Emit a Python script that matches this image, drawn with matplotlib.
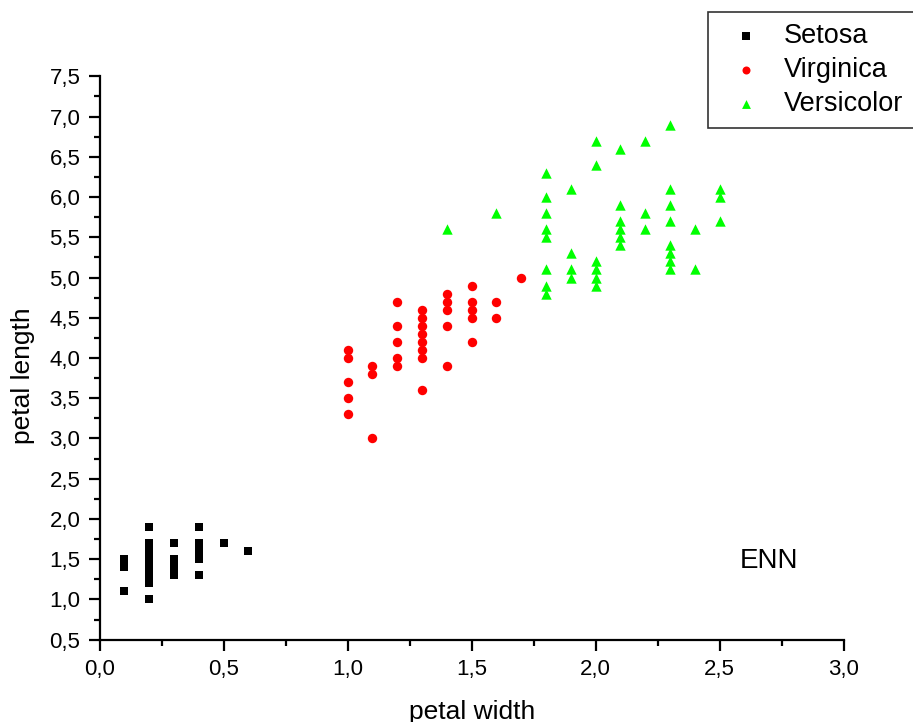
import numpy as np
import matplotlib
matplotlib.use("Agg")
import matplotlib.pyplot as plt
from matplotlib.ticker import MultipleLocator, FuncFormatter

plt.rcParams["font.family"] = ["Liberation Sans", "DejaVu Sans"]

# petal width / petal length
setosa_w = [0.1, 0.1, 0.1,
            0.2, 0.2, 0.2, 0.2, 0.2, 0.2, 0.2, 0.2,
            0.3, 0.3, 0.3, 0.3,
            0.4, 0.4, 0.4, 0.4, 0.4,
            0.5, 0.6]
setosa_l = [1.5, 1.4, 1.1,
            1.9, 1.7, 1.6, 1.5, 1.4, 1.3, 1.2, 1.0,
            1.7, 1.5, 1.4, 1.3,
            1.9, 1.7, 1.6, 1.5, 1.3,
            1.7, 1.6]

virginica_w = [1.0, 1.0, 1.0, 1.0, 1.0,
               1.1, 1.1, 1.1,
               1.2, 1.2, 1.2, 1.2, 1.2,
               1.3, 1.3, 1.3, 1.3, 1.3, 1.3, 1.3, 1.3,
               1.4, 1.4, 1.4, 1.4, 1.4,
               1.5, 1.5, 1.5, 1.5, 1.5,
               1.6, 1.6, 1.7]
virginica_l = [4.1, 4.0, 3.7, 3.5, 3.3,
               3.9, 3.8, 3.0,
               4.7, 4.4, 4.2, 4.0, 3.9,
               4.6, 4.5, 4.4, 4.3, 4.2, 4.1, 4.0, 3.6,
               4.8, 4.7, 4.6, 4.4, 3.9,
               4.9, 4.7, 4.6, 4.5, 4.2,
               4.7, 4.5, 5.0]

versicolor_w = [1.4, 1.6,
                1.8, 1.8, 1.8, 1.8, 1.8, 1.8, 1.8, 1.8,
                1.9, 1.9, 1.9, 1.9,
                2.0, 2.0, 2.0, 2.0, 2.0, 2.0,
                2.1, 2.1, 2.1, 2.1, 2.1, 2.1,
                2.2, 2.2, 2.2,
                2.3, 2.3, 2.3, 2.3, 2.3, 2.3, 2.3, 2.3,
                2.4, 2.4,
                2.5, 2.5, 2.5]
versicolor_l = [5.6, 5.8,
                6.3, 6.0, 5.8, 5.6, 5.5, 5.1, 4.9, 4.8,
                6.1, 5.3, 5.1, 5.0,
                6.7, 6.4, 5.2, 5.1, 5.0, 4.9,
                6.6, 5.9, 5.7, 5.6, 5.5, 5.4,
                6.7, 5.8, 5.6,
                6.9, 6.1, 5.9, 5.7, 5.4, 5.3, 5.2, 5.1,
                5.6, 5.1,
                6.1, 6.0, 5.7]

fig = plt.figure(figsize=(9.13, 7.22), dpi=100)
ax = fig.add_axes([0.1092, 0.114, 0.8148, 0.7803])

ax.scatter(setosa_w, setosa_l, marker="s", s=36, c="black", linewidths=0, label="Setosa")
ax.scatter(virginica_w, virginica_l, marker="o", s=46, c="#ff0000", linewidths=0, label="Virginica")
ax.scatter(versicolor_w, versicolor_l, marker="^", s=56, c="#00ff00", linewidths=0, label="Versicolor")

ax.set_xlim(0, 3.0)
ax.set_ylim(0.5, 7.5)
ax.spines["top"].set_visible(False)
ax.spines["right"].set_visible(False)
for sp in ["left", "bottom"]:
    ax.spines[sp].set_linewidth(1.6)

ax.xaxis.set_major_locator(MultipleLocator(0.5))
ax.xaxis.set_minor_locator(MultipleLocator(0.25))
ax.yaxis.set_major_locator(MultipleLocator(0.5))
ax.yaxis.set_minor_locator(MultipleLocator(0.25))
comma = FuncFormatter(lambda v, p: ("%.1f" % v).replace(".", ","))
ax.xaxis.set_major_formatter(comma)
ax.yaxis.set_major_formatter(comma)
ax.tick_params(which="major", direction="out", length=8, width=1.6, labelsize=16, pad=6)
ax.tick_params(which="minor", direction="out", length=4.5, width=1.6)

ax.set_xlabel("petal width", fontsize=19)
ax.set_ylabel("petal length", fontsize=19)
ax.xaxis.set_label_coords(0.5, -0.107)
ax.yaxis.set_label_coords(-0.087, 0.468)

ax.text(2.582, 1.39, "ENN", fontsize=20, va="baseline")

leg = fig.legend(loc="upper left", bbox_to_anchor=(0.7755, 0.9834), bbox_transform=fig.transFigure,
                 fontsize=19.5, frameon=True, fancybox=False, edgecolor="black",
                 handletextpad=0.4, labelspacing=0.3, borderpad=0.4, markerscale=0.85,
                 scatterpoints=1, borderaxespad=0)
leg.get_frame().set_linewidth(1.2)

fig.savefig("out.png", dpi=100)
